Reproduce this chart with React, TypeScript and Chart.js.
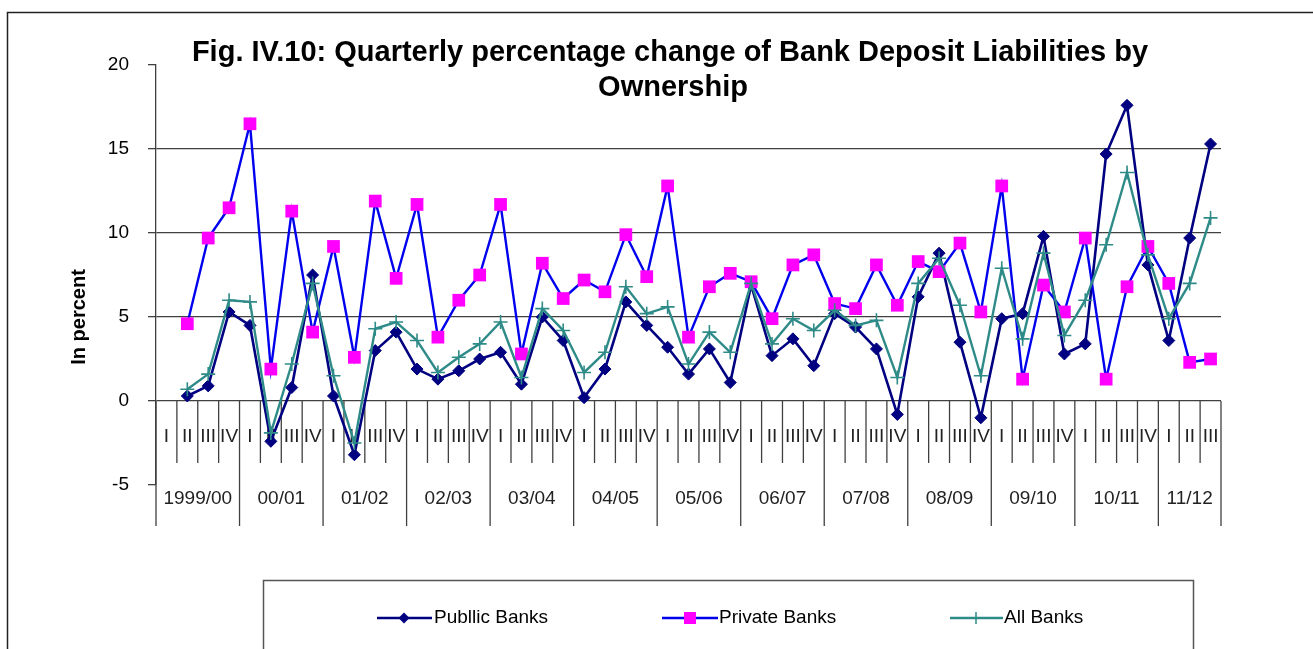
import React, { useEffect, useRef } from 'react';
import { Chart, registerables } from 'chart.js';

Chart.register(...registerables);

// ---- Data ----
const yearLabels = ['1999/00', '00/01', '01/02', '02/03', '03/04', '04/05', '05/06', '06/07', '07/08', '08/09', '09/10', '10/11', '11/12'];
const quartersPerYear = [4, 4, 4, 4, 4, 4, 4, 4, 4, 4, 4, 4, 3];
const quarterNames = ['I', 'II', 'III', 'IV'];

const quarterLabels: string[] = [];
yearLabels.forEach((_, yi) => {
  for (let q = 0; q < quartersPerYear[yi]; q++) quarterLabels.push(quarterNames[q]);
});

const publicBanks = [null, 0.3, 0.9, 5.3, 4.5, -2.4, 0.8, 7.5, 0.3, -3.2, 3.0, 4.1, 1.9, 1.3, 1.8, 2.5, 2.9, 1.0, 5.0, 3.6, 0.2,
  1.9, 5.9, 4.5, 3.2, 1.6, 3.1, 1.1, 6.9, 2.7, 3.7, 2.1, 5.2, 4.4, 3.1, -0.8, 6.2, 8.8, 3.5, -1.0, 4.9,
  5.2, 9.8, 2.8, 3.4, 14.7, 17.6, 8.1, 3.6, 9.7, 15.3];
const privateBanks = [null, 4.6, 9.7, 11.5, 16.5, 1.9, 11.3, 4.1, 9.2, 2.6, 11.9, 7.3, 11.7, 3.8, 6.0, 7.5, 11.7, 2.8, 8.2, 6.1, 7.2,
  6.5, 9.9, 7.4, 12.8, 3.8, 6.8, 7.6, 7.1, 4.9, 8.1, 8.7, 5.8, 5.5, 8.1, 5.7, 8.3, 7.7, 9.4, 5.3, 12.8,
  1.3, 6.9, 5.3, 9.7, 1.3, 6.8, 9.2, 7.0, 2.3, 2.5];
const allBanks = [null, 0.7, 1.6, 6.0, 5.9, -1.9, 2.2, 7.0, 1.5, -2.5, 4.3, 4.7, 3.6, 1.7, 2.6, 3.4, 4.7, 1.4, 5.5, 4.2, 1.7,
  2.9, 6.8, 5.2, 5.6, 2.2, 4.1, 2.9, 7.0, 3.4, 4.9, 4.2, 5.4, 4.5, 4.8, 1.4, 7.0, 8.5, 5.7, 1.5, 7.9,
  3.7, 8.8, 3.9, 6.0, 9.3, 13.6, 8.7, 4.9, 7.0, 10.9];

const yMin = -5;
const yMax = 20;
const yStep = 5;

const titleLines = ['Fig. IV.10: Quarterly percentage change of Bank Deposit Liabilities by', 'Ownership'];
const yAxisTitle = 'In percent';
const seriesNames = ['Publlic Banks', 'Private Banks', 'All Banks'];

// ---- Styles ----
const FONT = "'Liberation Sans', Arial, Helvetica, sans-serif";
const C_PUBLIC = '#000080';
const C_PRIVATE_LINE = '#0000EE';
const C_PRIVATE_MARK = '#FF00FF';
const C_ALL = '#2E8B88';
const C_GRID = '#404040';

const tablePlugin = {
  id: 'categoryTable',
  beforeDatasetsDraw(chart: any) {
    const { ctx } = chart;
    const xs = chart.scales.x;
    const ys = chart.scales.y;
    const y0 = ys.getPixelForValue(0);
    const n = quarterLabels.length;
    const slot = xs.getPixelForValue(1) - xs.getPixelForValue(0);
    const yearBounds = new Set<number>();
    let acc = 0;
    yearBounds.add(0);
    quartersPerYear.forEach((q) => { acc += q; yearBounds.add(acc); });

    ctx.save();
    ctx.strokeStyle = C_GRID;
    ctx.lineWidth = 1.3;
    for (let b = 0; b <= n; b++) {
      const px = b < n ? xs.getPixelForValue(b) - slot / 2 : xs.getPixelForValue(n - 1) + slot / 2;
      const len = yearBounds.has(b) ? 125 : 62;
      ctx.beginPath();
      ctx.moveTo(px, y0);
      ctx.lineTo(px, y0 + len);
      ctx.stroke();
    }
    ctx.fillStyle = '#222';
    ctx.font = `19px ${FONT}`;
    ctx.textAlign = 'center';
    ctx.textBaseline = 'middle';
    for (let i = 0; i < n; i++) {
      ctx.fillText(quarterLabels[i], xs.getPixelForValue(i), y0 + 36);
    }
    let start = 0;
    yearLabels.forEach((lab, yi) => {
      const end = start + quartersPerYear[yi] - 1;
      const cx = (xs.getPixelForValue(start) + xs.getPixelForValue(end)) / 2;
      ctx.fillText(lab, cx, y0 + 98);
      start = end + 1;
    });
    ctx.restore();
  },
};

function drawDiamond(ctx: CanvasRenderingContext2D, x: number, y: number, r: number, color: string) {
  ctx.beginPath();
  ctx.moveTo(x - r, y);
  ctx.lineTo(x, y - r);
  ctx.lineTo(x + r, y);
  ctx.lineTo(x, y + r);
  ctx.closePath();
  ctx.fillStyle = color;
  ctx.fill();
}

const decorPlugin = {
  id: 'decor',
  afterDraw(chart: any) {
    const { ctx, scales } = chart;
    ctx.save();
    // outer frame
    ctx.strokeStyle = '#222';
    ctx.lineWidth = 1.5;
    ctx.beginPath();
    ctx.moveTo(7.5, 700);
    ctx.lineTo(7.5, 12.5);
    ctx.lineTo(1400, 12.5);
    ctx.stroke();

    // title
    ctx.fillStyle = '#000';
    ctx.font = `bold 29px ${FONT}`;
    ctx.textAlign = 'center';
    ctx.textBaseline = 'alphabetic';
    ctx.fillText(titleLines[0], 670, 61);
    ctx.fillText(titleLines[1], 673, 96);

    // y axis title
    ctx.save();
    ctx.translate(79, scales.y.getPixelForValue(5));
    ctx.rotate(-Math.PI / 2);
    ctx.font = `bold 20px ${FONT}`;
    ctx.textBaseline = 'middle';
    ctx.fillText(yAxisTitle, 0, 0);
    ctx.restore();

    // legend box
    ctx.strokeStyle = '#555';
    ctx.lineWidth = 1.5;
    ctx.beginPath();
    ctx.moveTo(263.5, 700);
    ctx.lineTo(263.5, 580.5);
    ctx.lineTo(1193.5, 580.5);
    ctx.lineTo(1193.5, 700);
    ctx.stroke();

    const ly = 618;
    ctx.lineWidth = 2.5;
    ctx.font = `19px ${FONT}`;
    ctx.textAlign = 'left';
    ctx.textBaseline = 'middle';
    // public
    ctx.strokeStyle = C_PUBLIC;
    ctx.beginPath(); ctx.moveTo(377, ly); ctx.lineTo(432, ly); ctx.stroke();
    drawDiamond(ctx, 404, ly, 5.5, C_PUBLIC);
    ctx.fillStyle = '#000';
    ctx.fillText(seriesNames[0], 434, ly);
    // private
    ctx.strokeStyle = C_PRIVATE_LINE;
    ctx.beginPath(); ctx.moveTo(662, ly); ctx.lineTo(718, ly); ctx.stroke();
    ctx.fillStyle = C_PRIVATE_MARK;
    ctx.fillRect(684, ly - 6, 12, 12);
    ctx.fillStyle = '#000';
    ctx.fillText(seriesNames[1], 719, ly);
    // all
    ctx.strokeStyle = C_ALL;
    ctx.beginPath(); ctx.moveTo(950, ly); ctx.lineTo(1003, ly); ctx.stroke();
    ctx.lineWidth = 1.5;
    ctx.beginPath(); ctx.moveTo(976, ly - 6); ctx.lineTo(976, ly + 6); ctx.stroke();
    ctx.fillStyle = '#000';
    ctx.fillText(seriesNames[2], 1004, ly);
    ctx.restore();
  },
};

export default function App() {
  const ref = useRef<HTMLCanvasElement | null>(null);

  useEffect(() => {
    document.body.style.margin = '0';
    document.body.style.overflow = 'hidden';
    if (!ref.current) return;
    Chart.defaults.font.family = FONT;
    const chart = new Chart(ref.current, {
      type: 'line',
      data: {
        labels: quarterLabels,
        datasets: [
          {
            label: seriesNames[0],
            data: publicBanks,
            borderColor: C_PUBLIC,
            backgroundColor: C_PUBLIC,
            borderWidth: 2.6,
            pointStyle: 'rectRot',
            pointRadius: 6,
            pointBackgroundColor: C_PUBLIC,
            pointBorderColor: C_PUBLIC,
            pointBorderWidth: 1,
            tension: 0,
            order: 3,
          },
          {
            label: seriesNames[1],
            data: privateBanks,
            borderColor: C_PRIVATE_LINE,
            backgroundColor: C_PRIVATE_MARK,
            borderWidth: 2.4,
            pointStyle: 'rect',
            pointRadius: 9,
            pointBackgroundColor: C_PRIVATE_MARK,
            pointBorderColor: C_PRIVATE_MARK,
            pointBorderWidth: 0,
            tension: 0,
            order: 2,
          },
          {
            label: seriesNames[2],
            data: allBanks,
            borderColor: C_ALL,
            backgroundColor: C_ALL,
            borderWidth: 2.4,
            pointStyle: 'cross',
            pointRadius: 7,
            pointBorderColor: C_ALL,
            pointBorderWidth: 1.6,
            tension: 0,
            order: 1,
          },
        ],
      },
      options: {
        responsive: false,
        animation: false,
        events: [],
        layout: { padding: { top: 65, bottom: 164, right: 92, left: 0 } },
        plugins: {
          legend: { display: false },
          title: { display: false },
          tooltip: { enabled: false },
        },
        scales: {
          x: {
            type: 'category',
            offset: true,
            display: false,
          },
          y: {
            min: yMin,
            max: yMax,
            afterFit: (scale: any) => { scale.width = 156; },
            ticks: {
              stepSize: yStep,
              color: '#000',
              font: { size: 19, family: FONT },
              padding: 19,
            },
            grid: {
              color: (c: any) => (c.tick && (c.tick.value === yMin || c.tick.value === yMax) ? 'rgba(0,0,0,0)' : C_GRID),
              tickColor: C_GRID,
              tickLength: 8,
              lineWidth: 1.3,
            },
            border: { display: true, color: C_GRID, width: 1.3 },
          },
        },
      },
      plugins: [tablePlugin, decorPlugin],
    } as any);
    return () => chart.destroy();
  }, []);

  return (
    <div style={{ width: 1313, height: 649, position: 'relative' }}>
      <canvas ref={ref} width={1313} height={649} style={{ display: 'block' }} />
    </div>
  );
}
